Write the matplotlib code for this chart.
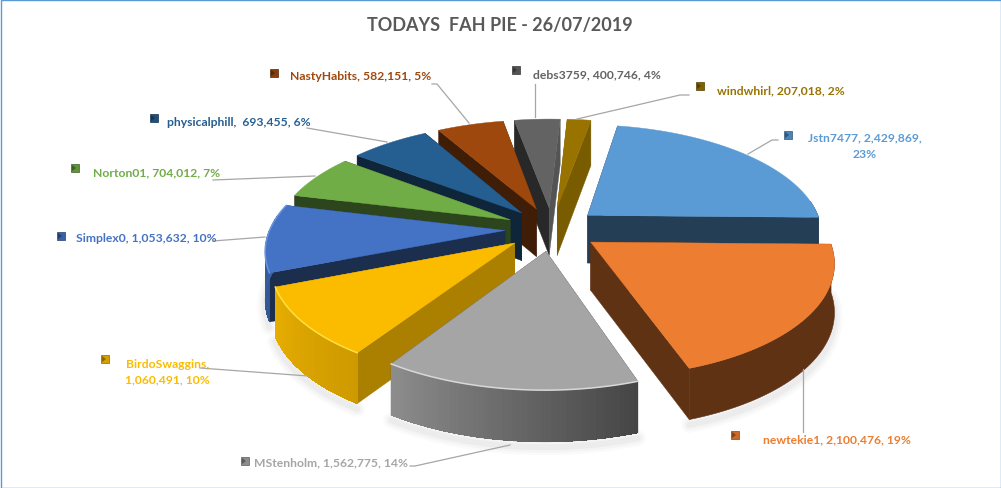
import numpy as np
import matplotlib
matplotlib.use("Agg")
import matplotlib.pyplot as plt
from matplotlib.patches import Polygon, Rectangle

title = "TODAYS  FAH PIE - 26/07/2019"
names = ["Jstn7477", "newtekie1", "MStenholm", "BirdoSwaggins", "Simplex0",
         "Norton01", "physicalphill", "NastyHabits", "debs3759", "windwhirl"]
values = [2429869, 2100476, 1562775, 1060491, 1053632, 704012, 693455, 582151, 400746, 207018]
percents = [23, 19, 14, 10, 10, 7, 6, 5, 4, 2]
colors = ["#5B9BD5", "#ED7D31", "#A5A5A5", "#FBBC00", "#4472C4",
          "#70AD47", "#255E91", "#9E480E", "#636363", "#997300"]

# styling
wall_start = [.40, .40, .40, .68, .40, .40, .40, .40, .40, .80]
wall_end = [.40, .40, .40, .68, .40, .40, .40, .40, .85, .80]
outer_shade = [(.40, .40), (.40, .40), (.42, .85), (.82, .92), (.75, .85),
               (.40, .40), (.40, .40), (.40, .40), (.40, .40), (.80, .80)]
rim_light = [None, None, "#D8D8D8", "#FFE040", "#6A96E0", None, None, None, None, None]
start_angle = 10.0
cx, cy, Rx, Ry, persp, explode, depth = 552, 230, 235, 109, 0.158, 0.2, 48

# label layout: (text x, text y, key x, key y)
label_pos = [(808, 138, 788, 136), (763, 440, 735, 436), (254, 463, 245, 462),
             (126, 364, 105, 360), (76, 238, 61, 237), (93, 173, 75, 169),
             (167, 122, 154, 119), (290, 76, 274, 74), (533, 75, 516, 71), (717, 91, 700, 87)]
leaders = [[(778, 141), (772, 141), (748, 155)], [(803, 370), (803, 433)],
           [(410, 467), (415, 467), (510, 446)], [(200, 369), (308, 377)],
           [(213, 242), (265, 238)], [(213, 181), (315, 177)],
           [(307, 129), (387, 143)], [(432, 85), (437, 85), (469, 124)],
           [(535, 85), (535, 118)], [(689, 96), (680, 96), (577, 120)]]

plt.rcParams["font.family"] = ["Lato", "DejaVu Sans"]
fig = plt.figure(figsize=(10.01, 4.89), dpi=100)
ax = fig.add_axes([0, 0, 1, 1])
ax.set_xlim(0, 1001)
ax.set_ylim(489, 0)
ax.axis("off")
ax.add_patch(Rectangle((0.5, 0.5), 1000, 488, fc="white", ec="#5B9BD5", lw=1))


def shade(c, f):
    return tuple(np.array(matplotlib.colors.to_rgb(c)) * f)


def proj(X, Y, lift=0.0):
    X, Y = np.asarray(X, float), np.asarray(Y, float)
    s = 1 / (1 + persp * Y)
    return np.column_stack([cx + Rx * X * s, cy - Ry * Y * s + lift * s ** 0.35])


total = sum(values)
sweep = np.array(values) / total * 360
starts = start_angle + np.r_[0, np.cumsum(sweep)[:-1]]
mids = starts + sweep / 2
order = np.argsort(-np.cos(np.radians(mids)))

# soft shadow
for i in order:
    th = np.radians(np.linspace(starts[i], starts[i] + sweep[i], 60))
    m = np.radians(mids[i])
    ox, oy = explode * np.sin(m), explode * np.cos(m)
    mask = np.cos(th) < 0.2
    if mask.sum() > 1:
        pts = proj(ox + np.sin(th[mask]), oy + np.cos(th[mask]), depth + 5)
        for w, a in [(16, .02), (11, .025), (6, .03)]:
            ax.plot(pts[:, 0], pts[:, 1], color="black", alpha=a, lw=w * .72,
                    solid_capstyle="round", zorder=1)

z = 2
for i in order:
    t0, t1 = starts[i], starts[i] + sweep[i]
    th = np.radians(np.linspace(t0, t1, max(int(sweep[i]) + 2, 8)))
    m = np.radians(mids[i])
    ox, oy = explode * np.sin(m), explode * np.cos(m)
    X, Y = ox + np.sin(th), oy + np.cos(th)
    top = proj(X, Y)
    bottom = proj(X, Y, depth)
    a_top, a_bot = proj([ox], [oy]), proj([ox], [oy], depth)
    # radial walls
    for k, f in ((0, wall_start[i]), (-1, wall_end[i])):
        poly = [a_top[0], top[k], bottom[k], a_bot[0]]
        ax.add_patch(Polygon(poly, fc=shade(colors[i], f), ec=shade(colors[i], f), lw=.3, zorder=z))
    z += 1
    # outer wall: solid base, then shaded strips that overlap their neighbours
    n = len(th)
    vis = np.where(np.cos(th) < 0.15)[0]
    if len(vis) > 1:
        base = np.vstack([top[vis], bottom[vis][::-1]])
        fm = np.mean(outer_shade[i])
        ax.add_patch(Polygon(base, fc=shade(colors[i], fm), ec=shade(colors[i], fm), lw=.4, zorder=z))
        z += 1
        if outer_shade[i][0] != outer_shade[i][1]:
            for k in range(vis[0], vis[-1]):
                f = np.interp(k, [0, n - 2], outer_shade[i])
                j = min(k + 2, vis[-1])
                q = [top[k], top[j], bottom[j], bottom[k]]
                ax.add_patch(Polygon(q, fc=shade(colors[i], f), ec="none", zorder=z, antialiased=False))
                z += 1
    # top face
    ax.add_patch(Polygon(np.vstack([a_top, top]), fc=colors[i], ec=colors[i], lw=.3, zorder=z))
    z += 1
    if rim_light[i]:
        ax.plot(top[:, 0], top[:, 1], color=rim_light[i], lw=1.1, zorder=z)
        z += 1

for pts in leaders:
    pts = np.array(pts)
    ax.plot(pts[:, 0], pts[:, 1], color="#A6A6A6", lw=.9, zorder=z)
z += 1

fs = 8.7
for i, (tx, ty, kx, ky) in enumerate(label_pos):
    col = colors[i]
    key_dark = shade(col, .55)
    ax.add_patch(Rectangle((kx - 4, ky - 4), 8, 8, fc=shade(col, .85), ec=key_dark, lw=.5, zorder=z))
    ax.add_patch(Polygon([(kx - 3, ky - 3), (kx + 1, ky), (kx - 3, ky + 3)], fc=key_dark, ec="none", zorder=z + 1))
    sep = ",  " if names[i] == "physicalphill" else ", "
    vtxt = f"{values[i]:,}, {percents[i]}%"
    kw = dict(color=col, fontsize=fs, fontweight="bold", va="center", zorder=z + 1)
    if names[i] == "Jstn7477":
        ax.text(tx, ty, f"{names[i]}, {values[i]:,},", ha="left", **kw)
        ax.text(865, ty + 16, f"{percents[i]}%", ha="center", **kw)
    elif names[i] == "BirdoSwaggins":
        ax.text(tx, ty, f"{names[i]},", ha="left", **kw)
        ax.text(tx - 1, ty + 16, vtxt, ha="left", **kw)
    else:
        ax.text(tx, ty, names[i] + sep + vtxt, ha="left", **kw)

ax.text(500, 25, title, ha="center", va="center", fontsize=13, fontweight="bold", color="#595959")
fig.savefig("out.png", dpi=100)
